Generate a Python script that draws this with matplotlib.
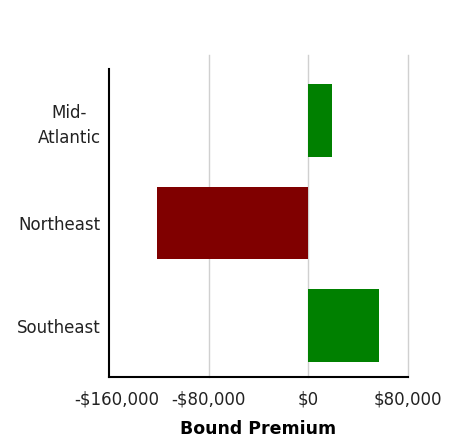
import matplotlib
matplotlib.use("Agg")
import matplotlib.pyplot as plt
import matplotlib.transforms as mtransforms
from matplotlib.ticker import FuncFormatter

regions = ["Mid-\nAtlantic", "Northeast", "Southeast"]
premium = [19100, -121400, 56600]
xticks = [-160000, -80000, 0, 80000]

colors = ["#008000" if v >= 0 else "#800000" for v in premium]

fig = plt.figure(figsize=(4.53, 4.47), dpi=100)
ax = fig.add_axes([109 / 453, 70 / 447, 299 / 453, 308 / 447])

ypos = list(range(len(regions)))
ax.barh(ypos, premium, height=0.71, color=colors, zorder=3)
ax.set_ylim(len(regions) - 0.5, -0.5)
ax.set_xlim(-160000, 80000)

ax.set_yticks(ypos)
ax.set_yticklabels(regions, fontsize=12, color="#222222",
                   multialignment="center", linespacing=1.5)
ax.set_xticks(xticks)
ax.xaxis.set_major_formatter(
    FuncFormatter(lambda v, p: ("-$" if v < 0 else "$") + f"{abs(v):,.0f}")
)
ax.tick_params(axis="x", labelsize=12, labelcolor="#222222", length=0, pad=10)
ax.tick_params(axis="y", length=0, pad=6)

# vertical grid lines, running a little above the plot
for xv in xticks[1:]:
    ax.axvline(xv, ymin=0, ymax=1.045, color="#d0d0d0", lw=1, zorder=1, clip_on=False)

for s in ["top", "right"]:
    ax.spines[s].set_visible(False)
ax.spines["left"].set_linewidth(1.5)
ax.spines["bottom"].set_linewidth(1.5)

# nudge the first tick label right so it is not clipped
lbl = ax.get_xticklabels()[0]
lbl.set_transform(lbl.get_transform() + mtransforms.ScaledTranslation(8 / 100, 0, fig.dpi_scale_trans))

ax.set_xlabel("Bound Premium", fontsize=12.5, fontweight="bold", labelpad=8)

fig.savefig("out.png", dpi=100)
